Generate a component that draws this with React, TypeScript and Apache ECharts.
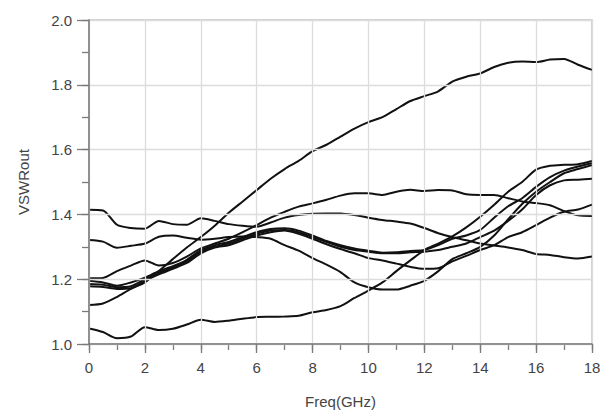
import React, { useEffect, useRef } from "react";
import * as echarts from "echarts";

const freq: number[] = Array.from({ length: 37 }, (_, i) => i * 0.5);

const xTicks = [0, 2, 4, 6, 8, 10, 12, 14, 16, 18];
const yTicks = ["1.0", "1.2", "1.4", "1.6", "1.8", "2.0"];

const curveA = [1.12,1.125,1.145,1.17,1.19,1.225,1.262,1.298,1.33,1.365,1.405,1.44,1.475,1.51,1.54,1.565,1.595,1.615,1.64,1.665,1.685,1.70,1.725,1.75,1.765,1.78,1.81,1.825,1.835,1.855,1.868,1.872,1.87,1.878,1.88,1.862,1.846];
const curveB = [1.414,1.412,1.368,1.358,1.356,1.38,1.37,1.368,1.388,1.38,1.37,1.365,1.362,1.375,1.39,1.398,1.402,1.403,1.403,1.398,1.39,1.383,1.378,1.372,1.358,1.342,1.33,1.32,1.31,1.304,1.298,1.29,1.278,1.275,1.268,1.264,1.27];
const curveC = [1.321,1.316,1.297,1.303,1.31,1.331,1.335,1.328,1.322,1.325,1.33,1.332,1.33,1.325,1.305,1.288,1.265,1.245,1.222,1.19,1.175,1.168,1.168,1.18,1.195,1.225,1.262,1.28,1.30,1.335,1.385,1.432,1.47,1.50,1.527,1.54,1.552];
const curveD = [1.203,1.204,1.225,1.242,1.258,1.242,1.25,1.27,1.295,1.31,1.325,1.345,1.367,1.39,1.408,1.424,1.434,1.445,1.458,1.465,1.465,1.46,1.47,1.476,1.472,1.475,1.474,1.462,1.46,1.46,1.45,1.44,1.435,1.428,1.41,1.397,1.395];
const curveE = [1.195,1.19,1.18,1.19,1.205,1.225,1.24,1.26,1.29,1.305,1.315,1.33,1.345,1.355,1.357,1.35,1.335,1.318,1.305,1.295,1.288,1.282,1.283,1.287,1.29,1.305,1.325,1.335,1.352,1.39,1.425,1.45,1.485,1.515,1.535,1.548,1.558];
const curveF = [1.185,1.183,1.175,1.178,1.2,1.22,1.235,1.255,1.285,1.3,1.31,1.325,1.34,1.35,1.352,1.345,1.33,1.315,1.30,1.29,1.285,1.28,1.28,1.283,1.285,1.29,1.30,1.31,1.33,1.35,1.38,1.415,1.46,1.49,1.505,1.507,1.51];
const curveG = [1.178,1.176,1.17,1.172,1.195,1.215,1.232,1.25,1.28,1.298,1.305,1.32,1.335,1.345,1.35,1.34,1.325,1.308,1.293,1.28,1.265,1.258,1.248,1.238,1.232,1.234,1.255,1.272,1.29,1.305,1.33,1.345,1.367,1.39,1.408,1.415,1.43];
const curveH = [1.048,1.037,1.018,1.023,1.052,1.043,1.047,1.06,1.075,1.068,1.072,1.078,1.083,1.084,1.085,1.087,1.098,1.105,1.117,1.142,1.165,1.19,1.225,1.258,1.29,1.31,1.332,1.36,1.393,1.43,1.47,1.5,1.538,1.55,1.553,1.555,1.565];

const curves = [curveA, curveB, curveC, curveD, curveE, curveF, curveG, curveH];

const FONT = "'Liberation Sans', Arial, sans-serif";
const TEXT = "#444444";
const AXIS = "#7a7a7a";

export default function App() {
  const ref = useRef<HTMLDivElement>(null);
  useEffect(() => {
    if (!ref.current) return;
    const chart = echarts.init(ref.current, undefined, { renderer: "svg" });
    chart.setOption({
      animation: false,
      backgroundColor: "#ffffff",
      grid: {
        left: 89,
        right: 19,
        top: 20,
        bottom: 70,
        show: true,
        borderColor: "#c4c4c4",
        borderWidth: 1.5,
        backgroundColor: "transparent",
      },
      xAxis: [
        {
          type: "value",
          min: 0,
          max: 18,
          interval: 2,
          name: "Freq(GHz)",
          nameLocation: "middle",
          nameGap: 50,
          nameTextStyle: { fontFamily: FONT, fontSize: 15, color: TEXT },
          axisLine: { show: true, lineStyle: { color: AXIS, width: 1.5 } },
          axisTick: { show: true, length: 9, lineStyle: { color: AXIS, width: 1.3 } },
          splitLine: { show: true, lineStyle: { color: "#dcdcdc", width: 1.3 } },
          axisLabel: {
            margin: 16,
            fontFamily: FONT,
            fontSize: 15,
            color: TEXT,
            formatter: (v: number) => (xTicks.includes(v) ? String(v) : ""),
          },
          z: 4,
        },
        {
          type: "value",
          position: "bottom",
          min: 0,
          max: 18,
          interval: 1,
          axisLine: { show: false },
          axisTick: { show: true, length: 6, lineStyle: { color: AXIS, width: 1.3 } },
          splitLine: { show: false },
          axisLabel: { show: false },
        },
      ],
      yAxis: [
        {
          type: "value",
          min: 1,
          max: 2,
          interval: 0.2,
          name: "VSWRout",
          nameLocation: "middle",
          nameGap: 58,
          nameTextStyle: { fontFamily: FONT, fontSize: 15, color: TEXT },
          axisLine: { show: true, lineStyle: { color: AXIS, width: 1.5 } },
          axisTick: { show: true, length: 12, lineStyle: { color: AXIS, width: 1.3 } },
          splitLine: { show: true, lineStyle: { color: "#dcdcdc", width: 1.3 } },
          axisLabel: {
            margin: 17,
            fontFamily: FONT,
            fontSize: 15,
            color: TEXT,
            formatter: (v: number) => {
              const s = v.toFixed(1);
              return yTicks.includes(s) ? s : "";
            },
          },
          z: 4,
        },
        {
          type: "value",
          position: "left",
          min: 1,
          max: 2,
          interval: 0.1,
          axisLine: { show: false },
          axisTick: { show: true, length: 7, lineStyle: { color: AXIS, width: 1.3 } },
          splitLine: { show: false },
          axisLabel: { show: false },
        },
      ],
      series: curves.map((c, i) => ({
        name: "s" + i,
        type: "line",
        xAxisIndex: 0,
        yAxisIndex: 0,
        data: freq.map((f, j) => [f, c[j]]),
        showSymbol: false,
        smooth: 0.25,
        lineStyle: { color: "#111111", width: 2 },
        z: 3,
      })),
    });
    return () => chart.dispose();
  }, []);
  return (
    <div
      ref={ref}
      style={{ position: "absolute", left: 0, top: 0, width: 611, height: 414, background: "#fff" }}
    />
  );
}
